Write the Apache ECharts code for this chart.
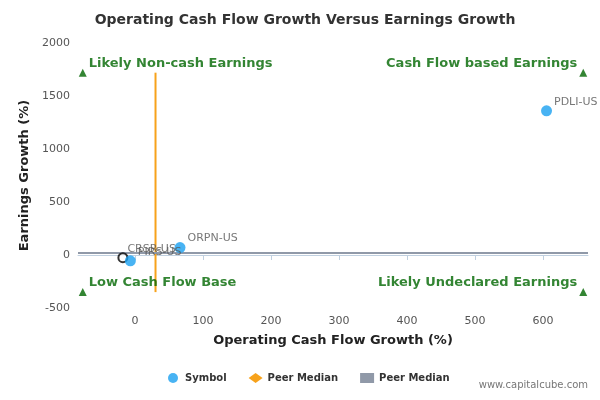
<!DOCTYPE html>
<html><head><meta charset="utf-8">
<script src="https://cdn.jsdelivr.net/npm/echarts@6/dist/echarts.min.js"></script>
<style>html,body{margin:0;padding:0;background:#fff}#c{width:600px;height:400px}</style>
</head><body><div id="c"></div>
<script>
const symbols = ['PDLI-US','ORPN-US','PIRS-US'];
const cashGrowth = [605, 66, -7];
const earnGrowth = [1360, 70, -55];
const ownSymbol = ['CRSR-US'];
const ownCash = [-18];
const ownEarn = [-25];
const peerMedianX = 30;
const peerMedianY = 20;
const xTicks = [0,100,200,300,400,500,600];
const quadLabels = ['Likely Non-cash Earnings','Cash Flow based Earnings','Low Cash Flow Base','Likely Undeclared Earnings'];
const quadX = [-77, 659, -77, 659];
const quadY = [1720, 1720, -350, -350];
const xMin = -84, xMax = 666, yMin = -500, yMax = 2000;

const chart = echarts.init(document.getElementById('c'));
const font = 'DejaVu Sans';
chart.setOption({
  animation:false,
  textStyle:{fontFamily:font},
  title:{text:'Operating Cash Flow Growth Versus Earnings Growth',left:300,textAlign:'center',top:8,
    textStyle:{fontSize:14,fontWeight:'bold',color:'#333',fontFamily:font}},
  grid:{left:78,right:12,top:43,bottom:92},
  xAxis:{type:'value',min:xMin,max:xMax,
    name:'Operating Cash Flow Growth (%)',nameLocation:'middle',nameGap:26,
    nameTextStyle:{fontWeight:'bold',fontSize:13,color:'#222'},
    axisLine:{show:true,lineStyle:{color:'#C0D0E0'}},
    axisTick:{show:true,customValues:xTicks,lineStyle:{color:'#C0D0E0'}},
    axisLabel:{customValues:xTicks,color:'#555',fontSize:11},
    splitLine:{show:false}},
  yAxis:{type:'value',min:yMin,max:yMax,interval:500,
    name:'Earnings Growth (%)',nameLocation:'middle',nameGap:44,
    nameTextStyle:{fontWeight:'bold',fontSize:13,color:'#222'},
    axisLine:{show:false},axisTick:{show:false},
    axisLabel:{color:'#555',fontSize:11,formatter:v=>String(v)},splitLine:{show:false}},
  legend:{bottom:12,left:163,itemGap:22,itemWidth:14,itemHeight:10,textStyle:{fontWeight:'bold',fontSize:10,color:'#333'},
    data:[{name:'Symbol',icon:'circle'},{name:'Peer Median X',icon:'diamond'},{name:'Peer Median Y',icon:'rect'}],
    formatter:n=>n.startsWith('Peer')?'Peer Median':n},
  graphic:[{type:'text',right:12,bottom:10,style:{text:'www.capitalcube.com',fill:'#777',fontSize:10,fontFamily:font}}],
  series:[
    {name:'Peer Median X',type:'line',symbol:'none',color:'#F7A21B',lineStyle:{width:2,color:'#F7A21B'},
      data:[[peerMedianX,quadY[2]],[peerMedianX,quadY[0]]],z:2},
    {name:'Peer Median Y',type:'line',symbol:'none',color:'#9099A8',lineStyle:{width:2,color:'#9099A8'},
      data:[[xMin,peerMedianY],[xMax,peerMedianY]],z:2},
    {name:'Symbol',type:'scatter',symbolSize:11,color:'#1AA0F0',z:4,
      data:symbols.map((s,i)=>({value:[cashGrowth[i],earnGrowth[i]],name:s})),
      label:{show:true,position:'right',offset:[-3,-9],formatter:p=>p.name,color:'#555',fontSize:11}},
    {name:'Own',type:'scatter',symbolSize:9,z:3,itemStyle:{color:'#fff',borderColor:'#000',borderWidth:2},
      data:ownSymbol.map((s,i)=>({value:[ownCash[i],ownEarn[i]],name:s})),
      label:{show:true,position:'right',offset:[-6,-9],formatter:p=>p.name,color:'#555',fontSize:11}},
    {name:'Quad',type:'scatter',symbol:'triangle',symbolSize:8,color:'#006600',z:3,
      data:quadLabels.map((s,i)=>({value:[quadX[i],quadY[i]],name:s,
        label:{position:i%2===0?'right':'left',offset:[i%2===0?-3:3,-9]}})),
      label:{show:true,formatter:p=>p.name,color:'#006600',fontWeight:'bold',fontSize:13}}
  ]
});
</script></body></html>
